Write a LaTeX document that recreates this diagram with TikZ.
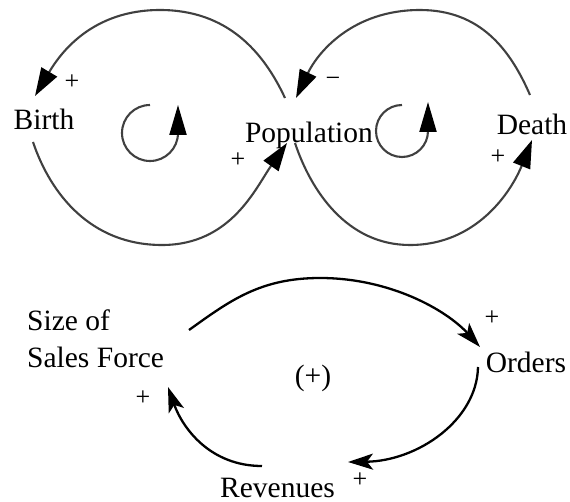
\documentclass[tikz,border=0pt]{standalone}
\usepackage{fontspec}
\setmainfont{Liberation Serif}
\usetikzlibrary{arrows.meta}
\begin{document}
\begin{tikzpicture}[x=1pt,y=-1pt,
  lbl/.style={inner sep=0pt, font=\fontsize{29.5}{37}\selectfont},
  sgn/.style={inner sep=0pt, font=\fontsize{26}{30}\selectfont},
  toploop/.style={draw=black!75, line width=2.1pt, -{Triangle[length=28pt,width=18pt,black]}},
  minorloop/.style={draw=black!75, line width=2.1pt, -{Triangle[length=30pt,width=17pt,black]}},
  salesloop/.style={draw=black, line width=2.3pt, -{Stealth[length=25pt,width=16pt,inset=6pt]}}]
\useasboundingbox (0,0) rectangle (570,502);

% text nodes
\node[lbl, anchor=base] (birth) at (44,130) {Birth};
\node[lbl, anchor=base] (pop) at (309,143) {Population};
\node[lbl, anchor=base] (death) at (532,135) {Death};
\node[lbl, anchor=base west, align=left] (sales) at (27,367) {Size of\\Sales Force};
\node[lbl, anchor=base] (loopsign) at (313,385) {(+)};
\node[lbl, anchor=base] (orders) at (526,373) {Orders};
\node[lbl, anchor=base] (rev) at (277.5,497) {Revenues};

% polarity signs
\node[sgn] (s1) at (72,82) {+};
\node[sgn] (s2) at (238,160) {+};
\node[sgn] (s3) at (333,82) {−};
\node[sgn] (s4) at (498,157) {+};
\node[sgn] (s5) at (492,318) {+};
\node[sgn] (s6) at (143,398) {+};
\node[sgn] (s7) at (360,480) {+};

% connector end points
\coordinate (a1) at (285,98);
\coordinate (atop) at (160,10);
\coordinate (a2) at (35,96);
\coordinate (b1) at (33,142);
\coordinate (bbot) at (162,245);
\coordinate (b2) at (287,143);
\coordinate (c1) at (530,95);
\coordinate (ctop) at (420,10);
\coordinate (c2) at (296,98);
\coordinate (d1) at (295,143);
\coordinate (dbot) at (410,245);
\coordinate (d2) at (532,140);
\coordinate (l1) at (150,105);
\coordinate (r1) at (402,105);
\coordinate (e1) at (189,330);
\coordinate (etop) at (320,278);
\coordinate (e2) at (480,347);
\coordinate (f1) at (478,367);
\coordinate (f2) at (348,462);
\coordinate (g1) at (262,466);
\coordinate (g2) at (168,387);

% top loops
\draw[toploop] (a1) .. controls (263.9,52.7) and (228,10) .. (atop) .. controls (92,10) and (60.5,53) .. (a2);
\draw[toploop] (b1) .. controls (50.6,194.3) and (91,245) .. (bbot) .. controls (231,245) and (255.6,188) .. (b2);
\draw[toploop] (c1) .. controls (510,49) and (480,10) .. (ctop) .. controls (352,10) and (317.5,53) .. (c2);
\draw[toploop] (d1) .. controls (311,191) and (347,245) .. (dbot) .. controls (477,245) and (511.6,191) .. (d2);

% loop markers
\draw[minorloop] (l1) arc[start angle=-90, end angle=-360, radius=28] -- ++(0,-28);
\draw[minorloop] (r1) arc[start angle=-90, end angle=-360, radius=26] -- ++(0,-29);

% sales loop
\draw[salesloop] (e1) .. controls (229.5,301) and (260,278) .. (etop) .. controls (390,278) and (446.5,310) .. (e2);
\draw[salesloop] (f1) .. controls (477,420) and (418,461) .. (f2);
\draw[salesloop] (g1) .. controls (210,466) and (182.5,428) .. (g2);
\end{tikzpicture}
\end{document}
